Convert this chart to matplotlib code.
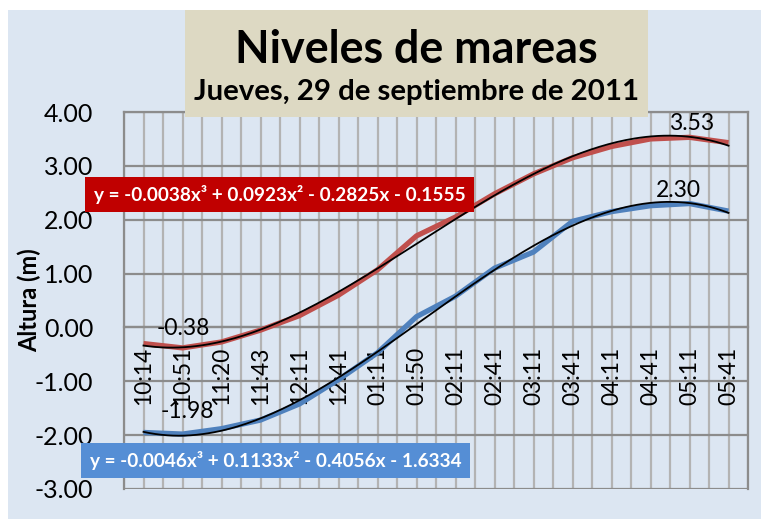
import numpy as np
import matplotlib
matplotlib.use("Agg")
import matplotlib.pyplot as plt
from matplotlib.patches import Rectangle

# tide heights (m), one value per labelled time
horas = ["10:14", "10:51", "11:20", "11:43", "12:11", "12:41", "01:11", "01:50",
         "02:11", "02:41", "03:11", "03:41", "04:11", "04:41", "05:11", "05:41"]
serie_roja = [-0.30, -0.38, -0.27, -0.05, 0.22, 0.60, 1.07, 1.70,
              2.05, 2.48, 2.85, 3.15, 3.36, 3.50, 3.53, 3.43]
serie_azul = [-1.95, -1.98, -1.88, -1.72, -1.42, -0.97, -0.47, 0.20,
              0.58, 1.10, 1.40, 1.97, 2.15, 2.26, 2.30, 2.16]

eq_roja = "y = -0.0038x³ + 0.0923x² - 0.2825x - 0.1555"
eq_azul = "y = -0.0046x³ + 0.1133x² - 0.4056x - 1.6334"

FONT = "Lato"
BG = "#dce6f2"
ROJO = "#c0504d"
AZUL = "#4f81bd"
W, H = 761, 519


def px_box(x0, y0, x1, y1):
    # pixel box (top-left origin) -> figure fraction rect
    return (x0 / W, (H - y1) / H), (x1 - x0) / W, (y1 - y0) / H


fig = plt.figure(figsize=(W / 100, H / 100), dpi=100)
fig.patch.set_facecolor("white")
xy, w, h = px_box(8, 10, W, H)
fig.add_artist(Rectangle(xy, w, h, transform=fig.transFigure,
                         facecolor=BG, edgecolor="none", zorder=-10))

ax = fig.add_axes([124 / W, 30 / H, 624 / W, 377 / H])
ax.set_facecolor(BG)

n = len(horas)
x = np.arange(n)
ax.set_xlim(-0.5, n - 0.5)
ax.set_ylim(-3, 4)

# grid
for gx in np.arange(-0.5, n, 0.5):
    ax.axvline(gx, color="#b3b3b3", lw=1.6, zorder=1)
for gy in range(-3, 5):
    ax.axhline(gy, color="#8c8c8c", lw=1.6, zorder=1)

ax.plot(x, serie_roja, color=ROJO, lw=3.8, solid_capstyle="butt", zorder=3)
ax.plot(x, serie_azul, color=AZUL, lw=3.8, solid_capstyle="butt", zorder=3)

# cubic trendlines (x = 1..n like the spreadsheet)
xs = np.linspace(0, n - 1, 200)
for serie in (serie_roja, serie_azul):
    c = np.polyfit(x + 1, serie, 3)
    ax.plot(xs, np.polyval(c, xs + 1), color="black", lw=1.3, zorder=4)

# data labels for min / max
lab = dict(ha="center", va="center", fontsize=16.5, family=FONT, zorder=5, textcoords="offset points")
i = int(np.argmin(serie_roja))
ax.annotate(f"{serie_roja[i]:.2f}", (i, serie_roja[i]), xytext=(0.5, 14), **lab)
i = int(np.argmax(serie_roja))
ax.annotate(f"{serie_roja[i]:.2f}", (i, serie_roja[i]), xytext=(1.5, 10), **lab)
i = int(np.argmin(serie_azul))
ax.annotate(f"{serie_azul[i]:.2f}", (i, serie_azul[i]), xytext=(3.5, 16.5), **lab)
i = int(np.argmax(serie_azul))
ax.annotate(f"{serie_azul[i]:.2f}", (i, serie_azul[i]), xytext=(-8, 9.5), **lab)

# equation boxes
for (x0, y0, x1, y1), col, txt in (((85, 177, 474, 212), "#c00000", eq_roja),
                                   ((81, 443, 470, 478), "#558ed5", eq_azul)):
    xy, w, h = px_box(x0, y0, x1, y1)
    fig.add_artist(Rectangle(xy, w, h, transform=fig.transFigure,
                             facecolor=col, edgecolor="none", zorder=6))
    fig.text((x0 + x1) / 2 / W, (H - (y0 + y1) / 2) / H, txt, ha="center", va="center",
             color="white", fontsize=13.7, fontweight="bold", family=FONT, zorder=7)

# axes: category labels sit at y = 0
ax.spines["bottom"].set_position(("data", 0))
for s in ax.spines.values():
    s.set_color("#8c8c8c")
    s.set_linewidth(1.6)
ax.set_xticks(x)
ax.set_xticklabels(horas, rotation=90, family=FONT, fontsize=16.3)
ax.tick_params(axis="x", length=0, pad=14)
ax.set_yticks(range(-3, 5))
ax.set_yticklabels([f"{v:.2f}" for v in range(-3, 5)], family=FONT, fontsize=18)
ax.tick_params(axis="y", length=0, pad=22)
ax.set_ylabel("Altura (m)", family=FONT, fontsize=17, fontweight="bold")
ax.yaxis.set_label_coords(-0.133, 0.5)

# title box
xy, w, h = px_box(185, 10, 648, 117)
fig.add_artist(Rectangle(xy, w, h, transform=fig.transFigure,
                         facecolor="#ddd9c3", edgecolor="none", zorder=10))
fig.text(416.5 / W, (H - 63) / H, "Niveles de mareas", ha="center", va="baseline",
         fontsize=32.3, fontweight="bold", family=FONT, zorder=11)
fig.text(416.5 / W, (H - 100) / H, "Jueves, 29 de septiembre de 2011", ha="center",
         va="baseline", fontsize=21.2, fontweight="bold", family=FONT, zorder=11)

fig.savefig("out.png", dpi=100)
